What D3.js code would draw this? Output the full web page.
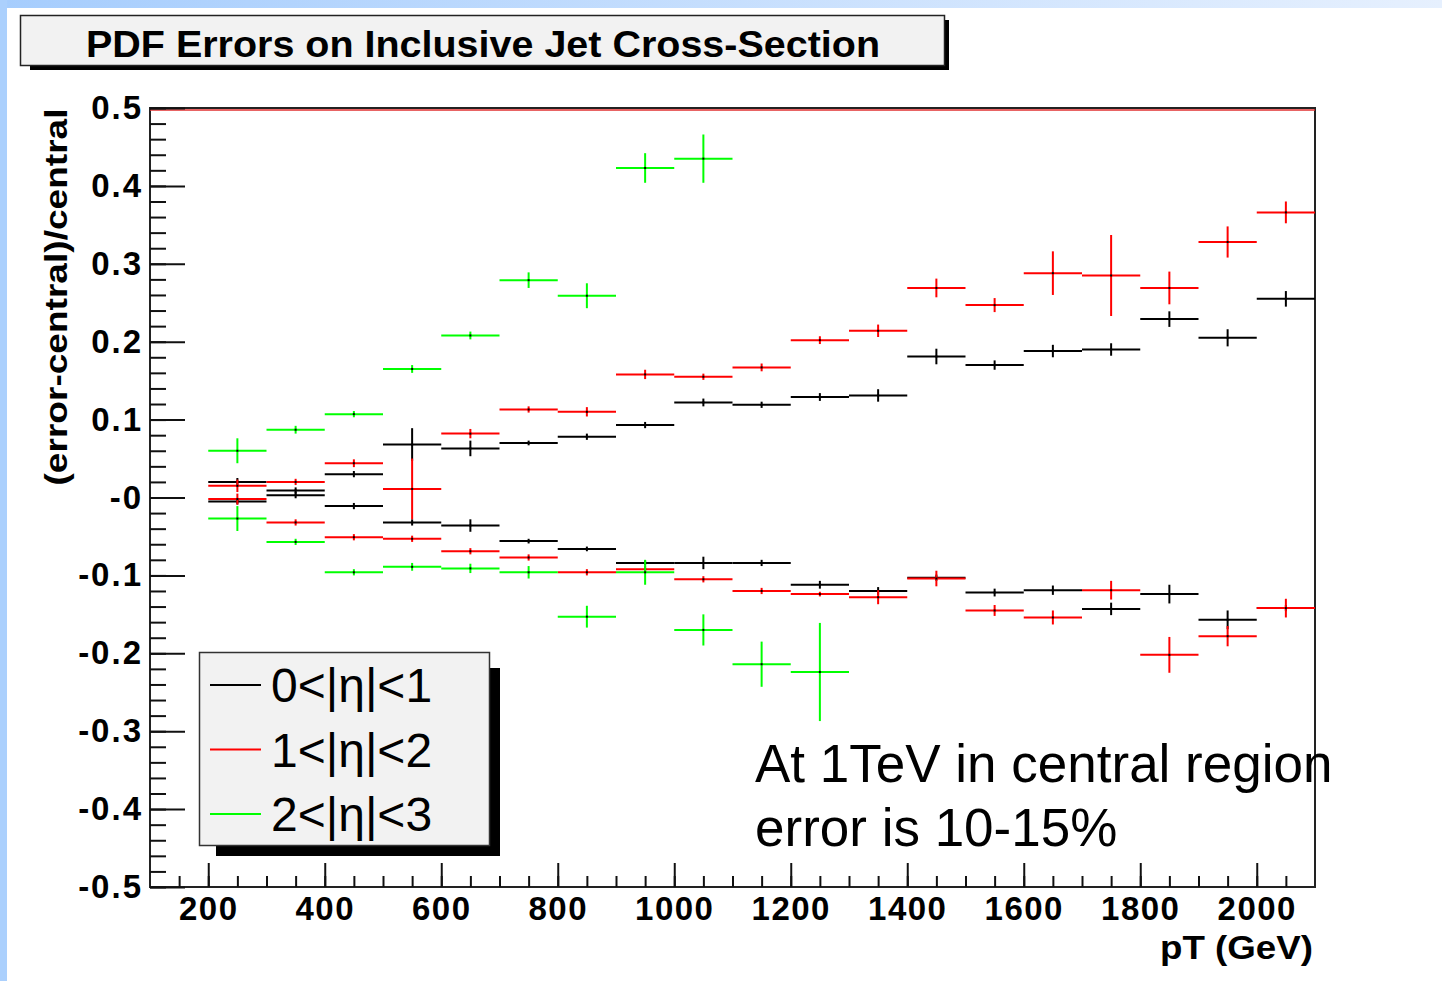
<!DOCTYPE html>
<html>
<head>
<meta charset="utf-8">
<script src="https://cdn.jsdelivr.net/npm/d3@7"></script>
<style>
  body { margin: 0; background: #fff; }
  svg { display: block; }
</style>
</head>
<body>
<div id="plot"></div>
<script>
// bin centres (GeV), each bin 100 GeV wide
const ptBins = [250, 350, 450, 550, 650, 750, 850, 950, 1050, 1150, 1250, 1350, 1450, 1550, 1650, 1750, 1850, 1950, 2050];

// 0<|eta|<1 (black)
const blackUp = [0.020, 0.009, 0.030, 0.068, 0.063, 0.070, 0.078, 0.093, 0.122, 0.119, 0.129, 0.131, 0.181, 0.170, 0.188, 0.190, 0.229, 0.205, 0.255];
const blackUpErr = [0.005, 0.004, 0.004, 0.021, 0.010, 0.003, 0.004, 0.004, 0.005, 0.004, 0.005, 0.008, 0.010, 0.006, 0.008, 0.008, 0.010, 0.011, 0.010];
const blackDown = [-0.005, 0.003, -0.011, -0.032, -0.036, -0.056, -0.066, -0.084, -0.084, -0.084, -0.112, -0.120, -0.103, -0.122, -0.119, -0.143, -0.124, -0.157, -0.142];
const blackDownErr = [0.004, 0.004, 0.004, 0.004, 0.008, 0.003, 0.003, 0.003, 0.008, 0.004, 0.005, 0.005, 0.004, 0.005, 0.006, 0.008, 0.012, 0.012, 0.004];

// 1<|eta|<2 (red)
const redUp = [0.015, 0.020, 0.044, 0.011, 0.082, 0.113, 0.110, 0.158, 0.155, 0.167, 0.202, 0.214, 0.269, 0.247, 0.288, 0.285, 0.269, 0.328, 0.366];
const redUpErr = [0.008, 0.004, 0.005, 0.039, 0.006, 0.004, 0.006, 0.006, 0.004, 0.005, 0.005, 0.008, 0.012, 0.009, 0.028, 0.052, 0.021, 0.020, 0.014];
const redDown = [-0.002, -0.032, -0.051, -0.053, -0.069, -0.077, -0.096, -0.092, -0.105, -0.120, -0.124, -0.128, -0.104, -0.145, -0.154, -0.119, -0.202, -0.178, -0.142];
const redDownErr = [0.007, 0.004, 0.004, 0.004, 0.004, 0.004, 0.004, 0.004, 0.004, 0.004, 0.003, 0.009, 0.010, 0.007, 0.009, 0.012, 0.023, 0.013, 0.012];

// 2<|eta|<3 (green)
const greenUp = [0.060, 0.087, 0.107, 0.165, 0.208, 0.279, 0.259, 0.423, 0.435];
const greenUpErr = [0.016, 0.005, 0.004, 0.005, 0.005, 0.010, 0.016, 0.019, 0.031];
const greenDown = [-0.027, -0.057, -0.096, -0.089, -0.091, -0.096, -0.153, -0.096, -0.170, -0.214, -0.224];
const greenDownErr = [0.016, 0.004, 0.004, 0.005, 0.006, 0.008, 0.014, 0.016, 0.020, 0.029, 0.063];

const xTicks = [200, 400, 600, 800, 1000, 1200, 1400, 1600, 1800, 2000];
const yTicks = [-0.5, -0.4, -0.3, -0.2, -0.1, 0, 0.1, 0.2, 0.3, 0.4, 0.5];
const yTickLabels = ['-0.5', '-0.4', '-0.3', '-0.2', '-0.1', '-0', '0.1', '0.2', '0.3', '0.4', '0.5'];
const legendLabels = ['0<|η|<1', '1<|η|<2', '2<|η|<3'];

const W = 1442, H = 981;
const frame = {left: 150, right: 1315, top: 108, bottom: 887};
const font = 'Liberation Sans, Arial, sans-serif';

let svg = d3.select('#plot').append('svg')
    .attr('width', W)
    .attr('height', H);

// slide background strips
let grad = svg.append('defs').append('linearGradient')
    .attr('id', 'topband').attr('x1', 0).attr('x2', 1).attr('y1', 0).attr('y2', 0);
grad.append('stop').attr('offset', '0%').attr('stop-color', '#a6cdfd');
grad.append('stop').attr('offset', '100%').attr('stop-color', '#e6f0fe');
svg.append('rect').attr('x', 0).attr('y', 0).attr('width', W).attr('height', 8).attr('fill', 'url(#topband)');
svg.append('rect').attr('x', 0).attr('y', 0).attr('width', 7).attr('height', H).attr('fill', '#abd0fd');

// title box
svg.append('rect').attr('x', 30).attr('y', 20).attr('width', 919).attr('height', 50).attr('fill', '#000');
svg.append('rect').attr('x', 20.5).attr('y', 15.5).attr('width', 924).attr('height', 50)
    .attr('fill', '#f2f2f2').attr('stroke', '#222').attr('stroke-width', 1.5);
svg.append('text')
    .attr('x', 86).attr('y', 57)
    .attr('textLength', 794).attr('lengthAdjust', 'spacingAndGlyphs')
    .style('font-family', font)
    .style('font-weight', 'bold')
    .style('font-size', '37px')
    .text('PDF Errors on Inclusive Jet Cross-Section');

let x = d3.scaleLinear().domain([100, 2100]).range([frame.left, frame.right]);
let y = d3.scaleLinear().domain([-0.5, 0.5]).range([frame.bottom, frame.top]);

// frame
svg.append('rect')
    .attr('x', frame.left).attr('y', frame.top)
    .attr('width', frame.right - frame.left).attr('height', frame.bottom - frame.top)
    .attr('fill', 'none').attr('stroke', '#222').attr('stroke-width', 2);
svg.append('line')
    .attr('x1', frame.left).attr('x2', frame.right)
    .attr('y1', frame.top + 2).attr('y2', frame.top + 2)
    .attr('stroke', '#e03030').attr('stroke-width', 1.5);

// Y axis, ticks pointing inwards
let yMinor = d3.range(-0.5, 0.5001, 0.02);
svg.append('g')
    .attr('transform', `translate(${frame.left},0)`)
    .call(d3.axisLeft(y).tickValues(yMinor).tickSize(-16).tickFormat(''))
    .call(g => g.select('.domain').remove())
    .call(g => g.selectAll('line').attr('stroke', '#111').attr('stroke-width', 2));

svg.append('g')
    .attr('transform', `translate(${frame.left},0)`)
    .call(d3.axisLeft(y).tickValues(yTicks).tickSize(-35).tickPadding(7)
        .tickFormat((d, i) => yTickLabels[i]))
    .call(g => g.select('.domain').remove())
    .call(g => g.selectAll('line').attr('stroke', '#111').attr('stroke-width', 2))
    .call(g => g.selectAll('text')
        .style('font-family', font)
        .style('font-weight', 'bold')
        .style('font-size', '33px')
        .style('letter-spacing', '2px')
        .attr('fill', '#000'));

// X axis
let xMinor = d3.range(150, 2100, 50);
svg.append('g')
    .attr('transform', `translate(0,${frame.bottom})`)
    .call(d3.axisBottom(x).tickValues(xMinor).tickSize(-11).tickFormat(''))
    .call(g => g.select('.domain').remove())
    .call(g => g.selectAll('line').attr('stroke', '#111').attr('stroke-width', 2));

svg.append('g')
    .attr('transform', `translate(0,${frame.bottom})`)
    .call(d3.axisBottom(x).tickValues(xTicks).tickSize(-24).tickPadding(10).tickFormat(d3.format('d')))
    .call(g => g.select('.domain').remove())
    .call(g => g.selectAll('line').attr('stroke', '#111').attr('stroke-width', 2))
    .call(g => g.selectAll('text')
        .style('font-family', font)
        .style('font-weight', 'bold')
        .style('font-size', '33px')
        .style('letter-spacing', '1.5px')
        .attr('fill', '#000'));

// axis titles
svg.append('text')
    .attr('transform', 'translate(67,297) rotate(-90)')
    .attr('text-anchor', 'middle')
    .attr('textLength', 377).attr('lengthAdjust', 'spacingAndGlyphs')
    .style('font-family', font)
    .style('font-weight', 'bold')
    .style('font-size', '31px')
    .text('(error-central)/central');

svg.append('text')
    .attr('x', 1160).attr('y', 959)
    .attr('textLength', 153).attr('lengthAdjust', 'spacingAndGlyphs')
    .style('font-family', font)
    .style('font-weight', 'bold')
    .style('font-size', '34px')
    .text('pT (GeV)');

// error-bar crosses
function drawSeries(vals, errs, color) {
    let pts = vals.map((v, i) => ({pt: ptBins[i], v: v, e: errs[i]}));
    let g = svg.append('g');
    g.selectAll('.h').data(pts).enter().append('line')
        .attr('x1', d => x(d.pt - 50)).attr('x2', d => x(d.pt + 50))
        .attr('y1', d => y(d.v)).attr('y2', d => y(d.v))
        .attr('stroke', color).attr('stroke-width', 2);
    g.selectAll('.v').data(pts).enter().append('line')
        .attr('x1', d => x(d.pt)).attr('x2', d => x(d.pt))
        .attr('y1', d => y(d.v - d.e)).attr('y2', d => y(d.v + d.e))
        .attr('stroke', color).attr('stroke-width', 2);
    g.selectAll('rect').data(pts).enter().append('rect')
        .attr('x', d => x(d.pt) - 1).attr('y', d => y(d.v) - 1)
        .attr('width', 2).attr('height', 2)
        .attr('fill', '#000');
}

drawSeries(blackUp, blackUpErr, '#000');
drawSeries(blackDown, blackDownErr, '#000');
drawSeries(redUp, redUpErr, '#ff0000');
drawSeries(redDown, redDownErr, '#ff0000');
drawSeries(greenUp, greenUpErr, '#00ff00');
drawSeries(greenDown, greenDownErr, '#00ff00');

// legend
let colors = ['#000', '#ff0000', '#00ff00'];
svg.append('rect').attr('x', 216).attr('y', 668).attr('width', 284).attr('height', 188).attr('fill', '#000');
svg.append('rect').attr('x', 199.5).attr('y', 652.5).attr('width', 290).attr('height', 193)
    .attr('fill', '#f2f2f2').attr('stroke', '#333').attr('stroke-width', 1.5);
let leg = svg.append('g').selectAll('g').data(legendLabels).enter().append('g')
    .attr('transform', (d, i) => `translate(0,${685 + i * 64.5})`);
leg.append('line')
    .attr('x1', 210).attr('x2', 261).attr('y1', 0).attr('y2', 0)
    .attr('stroke', (d, i) => colors[i]).attr('stroke-width', 2);
leg.append('text')
    .attr('x', 271).attr('y', 17)
    .style('font-family', font)
    .style('font-size', '48px')
    .text(d => d);

// annotation
let note = svg.append('text')
    .style('font-family', font)
    .style('font-size', '53px')
    .attr('fill', '#000');
note.append('tspan').attr('x', 755).attr('y', 782).text('At 1TeV in central region');
note.append('tspan').attr('x', 755).attr('y', 846).text('error is 10-15%');
</script>
</body>
</html>
